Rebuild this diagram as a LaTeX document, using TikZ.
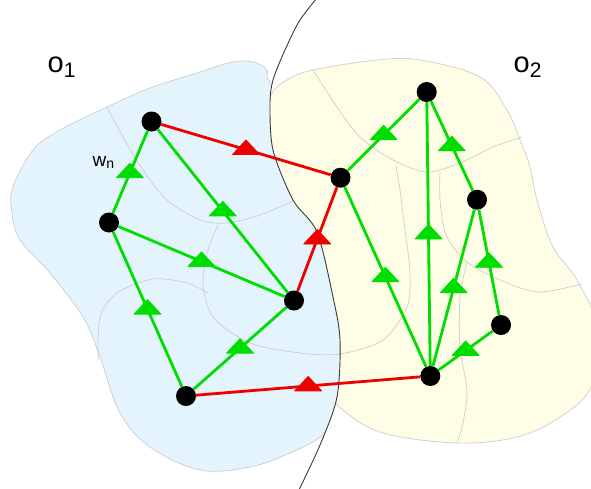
\documentclass[tikz,border=0pt]{standalone}
\usepackage{fontspec}
\setmainfont{Liberation Sans}
\usetikzlibrary{calc}

\definecolor{bluefill}{HTML}{E3F4FC}
\definecolor{yellowfill}{HTML}{FEFEE6}
\definecolor{cellline}{HTML}{CDCDCD}
\definecolor{edgegreen}{HTML}{00DD00}
\definecolor{edgered}{HTML}{EE0000}
\definecolor{divider}{HTML}{3A3A3A}

\tikzset{
  region/.style={draw=cellline, line width=0.7pt},
  cell/.style={draw=cellline, line width=0.7pt},
  dot/.style={circle, fill=black, minimum size=20pt, inner sep=0pt},
  gedge/.style={draw=edgegreen, line width=2.8pt},
  redge/.style={draw=edgered, line width=2.8pt},
  mtri/.pic={\filldraw[line width=0.8pt, line join=round] (-13.5,4.9) -- (13.5,4.9) -- (0,-9.6) -- cycle;},
  gmark/.style={fill=edgegreen, draw=edgegreen},
  rmark/.style={fill=edgered, draw=edgered},
  lbl/.style={anchor=base west, inner sep=0pt},
}

\begin{document}
\begin{tikzpicture}[x=1pt, y=-1pt]
\useasboundingbox (0,0) rectangle (591,488);

% left domain
\begin{scope}
  \clip (-20,-20) -- plot[smooth] coordinates {(322,-8) (300,20) (285,50) (273,80) (270,105) (273,150) (293,200) (317,232) (333,297) (340,340) (337,397) (320,445) (296,496)} -- (-20,510) -- cycle;
  \path[region, fill=bluefill] plot[smooth cycle, tension=0.6] coordinates {
    (12,213) (20,240) (50,273) (83,317) (100,357) (120,413) (150,447)
    (200,470) (250,467) (290,453) (322,436) (365,400) (375,300) (335,150)
    (273,86) (267,70) (253,62) (233,62) (200,72) (150,88) (107,107)
    (60,130) (33,150) (13,187)};
  \draw[cell] plot[smooth] coordinates {(107,107) (123,137) (143,170) (167,200) (200,220) (227,223) (260,215) (300,198)};
  \draw[cell] plot[smooth] coordinates {(98,360) (100,317) (117,293) (153,279) (187,283) (208,293)};
\end{scope}

% right domain
\begin{scope}
  \clip (620,-20) -- plot[smooth] coordinates {(322,-8) (300,20) (285,50) (273,80) (270,105) (273,150) (293,200) (317,232) (333,297) (340,340) (337,397) (320,445) (296,496)} -- (620,510) -- cycle;
  \path[region, fill=yellowfill] plot[smooth cycle, tension=0.6] coordinates {
    (271,95) (287,80) (313,70) (377,60) (420,60) (480,77) (507,110)
    (520,140) (530,167) (537,200) (553,247) (577,280) (598,330)
    (591,387) (560,417) (517,437) (457,443) (383,433) (343,410)
    (330,392) (300,340) (260,230) (250,140)};
  \draw[cell] plot[smooth] coordinates {(313,70) (337,107) (360,137) (393,160) (427,172) (460,163) (493,147) (522,137)};
  \draw[cell] plot[smooth] coordinates {(440,172) (440,200) (446,235) (467,262) (507,283) (540,292) (582,284)};
  \draw[cell] plot[smooth] coordinates {(467,262) (460,297) (460,347) (467,390) (463,423) (457,443)};
\end{scope}

% cell boundary shared by both domains
\draw[cell] plot[smooth] coordinates {(218,225) (208,250) (203,283) (213,317) (250,343) (300,353) (340,354) (383,340) (407,307) (410,273) (405,230) (400,190) (396,165)};

% dividing curve
\draw[divider, line width=0.9pt] plot[smooth] coordinates {(322,-8) (300,20) (285,50) (273,80) (270,105) (273,150) (293,200) (317,232) (333,297) (340,340) (337,397) (320,445) (296,496)};

% vertices
\node[dot] (A) at (151.5,121.5) {};
\node[dot] (B) at (109,222.5) {};
\node[dot] (C) at (294,300.5) {};
\node[dot] (D) at (186,396) {};
\node[dot] (E) at (340.5,177.7) {};
\node[dot] (F) at (426.7,92) {};
\node[dot] (G) at (477,199.7) {};
\node[dot] (H) at (501,325) {};
\node[dot] (I) at (430.3,376) {};

% edges inside the domains
\draw[gedge] (A) -- coordinate[pos=0.51] (mAB) (B);
\draw[gedge] (A) -- coordinate[pos=0.5] (mAC) (C);
\draw[gedge] (B) -- coordinate[pos=0.5] (mBC) (C);
\draw[gedge] (B) -- coordinate[pos=0.5] (mBD) (D);
\draw[gedge] (C) -- coordinate[pos=0.5] (mCD) (D);
\draw[gedge] (E) -- coordinate[pos=0.5] (mEF) (F);
\draw[gedge] (F) -- coordinate[pos=0.5] (mFG) (G);
\draw[gedge] (F) -- coordinate[pos=0.5] (mFI) (I);
\draw[gedge] (E) -- coordinate[pos=0.5] (mEI) (I);
\draw[gedge] (G) -- coordinate[pos=0.5] (mGI) (I);
\draw[gedge] (G) -- coordinate[pos=0.5] (mGH) (H);
\draw[gedge] (H) -- coordinate[pos=0.5] (mHI) (I);

% edges across the divide
\draw[redge] (A) -- coordinate[pos=0.5] (mAE) (E);
\draw[redge] (C) -- coordinate[pos=0.5] (mCE) (E);
\draw[redge] (D) -- coordinate[pos=0.5] (mDI) (I);

% edge markers
\foreach \m in {mAB,mAC,mBC,mBD,mCD,mEF,mFG,mFI,mEI,mGI,mGH,mHI}
  \pic[gmark] at (\m) {mtri};
\foreach \m in {mAE,mCE,mDI}
  \pic[rmark] at (\m) {mtri};

% labels
\node[lbl] (o1) at (47.5,72) {\fontsize{29}{30}\selectfont o\raisebox{-5pt}{\fontsize{21}{22}\selectfont 1}};
\node[lbl] (o2) at (513.5,72) {\fontsize{29}{30}\selectfont o\raisebox{-5pt}{\fontsize{21}{22}\selectfont 2}};
\node[lbl] (wn) at (92.5,166) {\fontsize{19}{20}\selectfont w\raisebox{-2pt}{\fontsize{14}{15}\selectfont n}};
\end{tikzpicture}
\end{document}
